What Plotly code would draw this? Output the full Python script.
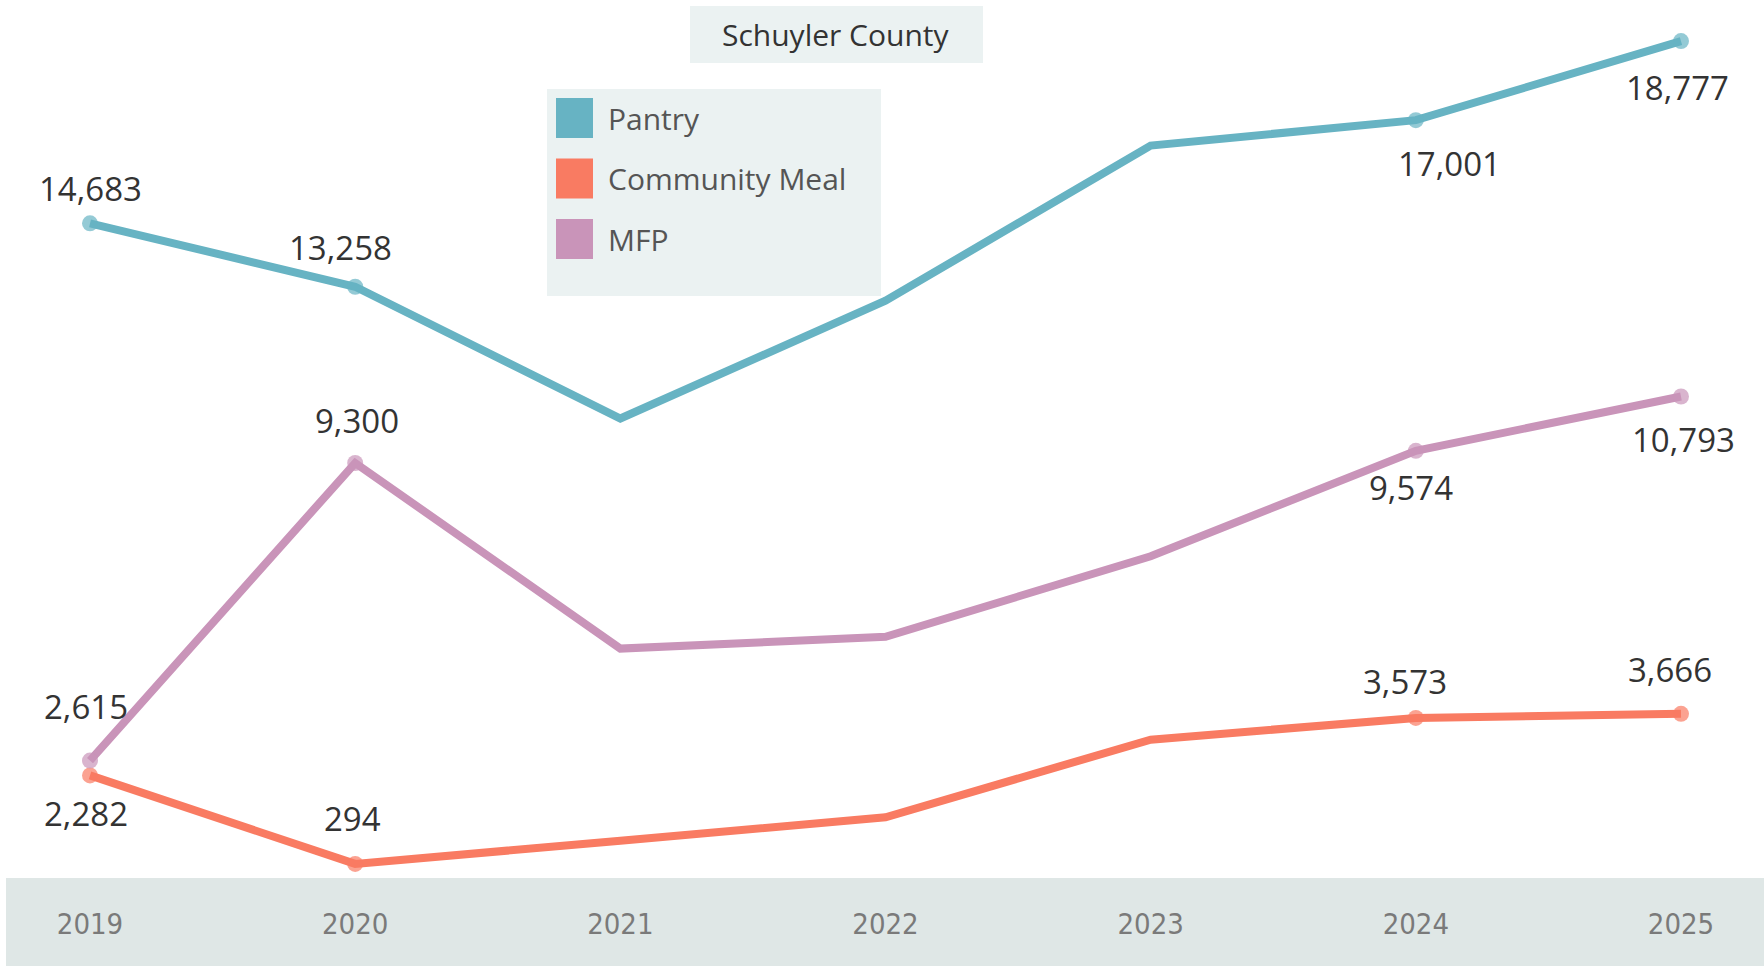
import plotly.graph_objects as go

# ---- data ----
years = [2019, 2020, 2021, 2022, 2023, 2024, 2025]
series_names = ["Pantry", "Community Meal", "MFP"]
pantry = [14683, 13258, 10300, 12945, 16430, 17001, 18777]
community_meal = [2282, 294, 815, 1340, 3085, 3573, 3666]
mfp = [2615, 9300, 5130, 5395, 7205, 9574, 10793]
labeled_years = [2019, 2020, 2024, 2025]
title_text = "Schuyler County"

# ---- styles ----
colors = {"Pantry": "#67b3c3", "Community Meal": "#f97b62", "MFP": "#c994b9"}
values = {"Pantry": pantry, "Community Meal": community_meal, "MFP": mfp}
# label offsets (dx, dy in pixels; positive dy = up) per labeled point
label_offsets = {
    "Pantry": [(0, 35), (-15, 39), (34, -43), (-4, -46)],
    "Community Meal": [(-4, -38), (-3, 45), (-11, 36), (-11, 44)],
    "MFP": [(-4, 54), (2, 42), (-5, -37), (2, -43)],
}

W, H = 1764, 966
ML, MR, MT, MB = 6, 0, 0, 89
PW, PH = W - ML - MR, H - MT - MB
FONT = "Open Sans"


def px(x):
    return (x - ML) / PW


def py(y):
    return (H - MB - y) / PH


fig = go.Figure()

for name in series_names:
    vals = values[name]
    sizes = [16 if y in labeled_years else 0 for y in years]
    fig.add_trace(go.Scatter(
        x=years, y=vals, mode="lines+markers", name=name,
        line=dict(color=colors[name], width=8),
        marker=dict(color=colors[name], size=sizes, line=dict(width=0)),
        showlegend=False, hoverinfo="x+y",
    ))
    for (dx, dy), yr in zip(label_offsets[name], labeled_years):
        v = vals[years.index(yr)]
        fig.add_annotation(
            x=yr, y=v, xref="x", yref="y", text=f"{v:,}", showarrow=False,
            xshift=dx, yshift=dy,
            font=dict(family=FONT, size=33, color="#333333"),
        )

shapes = []
# grey axis band
shapes.append(dict(type="rect", xref="paper", yref="paper", x0=0, x1=1,
                   y0=py(H), y1=py(H - MB + 1), fillcolor="#dfe7e6",
                   line=dict(width=0), layer="below"))
# title box
shapes.append(dict(type="rect", xref="paper", yref="paper", x0=px(690), x1=px(983),
                   y0=py(63), y1=py(6), fillcolor="#ebf2f2", line=dict(width=0), layer="below"))
# legend box
shapes.append(dict(type="rect", xref="paper", yref="paper", x0=px(547), x1=px(881),
                   y0=py(296), y1=py(89), fillcolor="#ebf2f2", line=dict(width=0), layer="below"))

fig.add_annotation(x=px(836), y=py(35), xref="paper", yref="paper", text=title_text,
                   showarrow=False, xanchor="center", yanchor="middle",
                   font=dict(family=FONT, size=30, color="#333333"))

for i, name in enumerate(series_names):
    top = 98 + i * 60.5
    shapes.append(dict(type="rect", xref="paper", yref="paper", x0=px(556), x1=px(593),
                       y0=py(top + 40), y1=py(top), fillcolor=colors[name],
                       line=dict(width=0)))
    fig.add_annotation(x=px(606), y=py(top + 20), xref="paper", yref="paper", text=name,
                       showarrow=False, xanchor="left", yanchor="middle",
                       font=dict(family=FONT, size=30, color="#555555"))

fig.update_layout(
    width=W, height=H,
    margin=dict(l=ML, r=MR, t=MT, b=MB),
    paper_bgcolor="white", plot_bgcolor="white",
    shapes=shapes,
    showlegend=False,
    xaxis=dict(range=[2019 - 0.3168, 2025 + 0.313], tickvals=years,
               ticktext=[str(y) for y in years], showgrid=False, zeroline=False,
               showline=False, ticks="", ticklabelstandoff=27,
               tickfont=dict(family="Liberation Sans Narrow, DejaVu Sans Condensed", size=29,
                             color="#7a7a7a")),
    yaxis=dict(range=[0, 19700], visible=False, showgrid=False, zeroline=False),
)

fig.write_html(
    "out.html",
    config={"displayModeBar": False},
    post_script="document.body.style.margin='0';document.body.style.overflow='hidden';",
)
